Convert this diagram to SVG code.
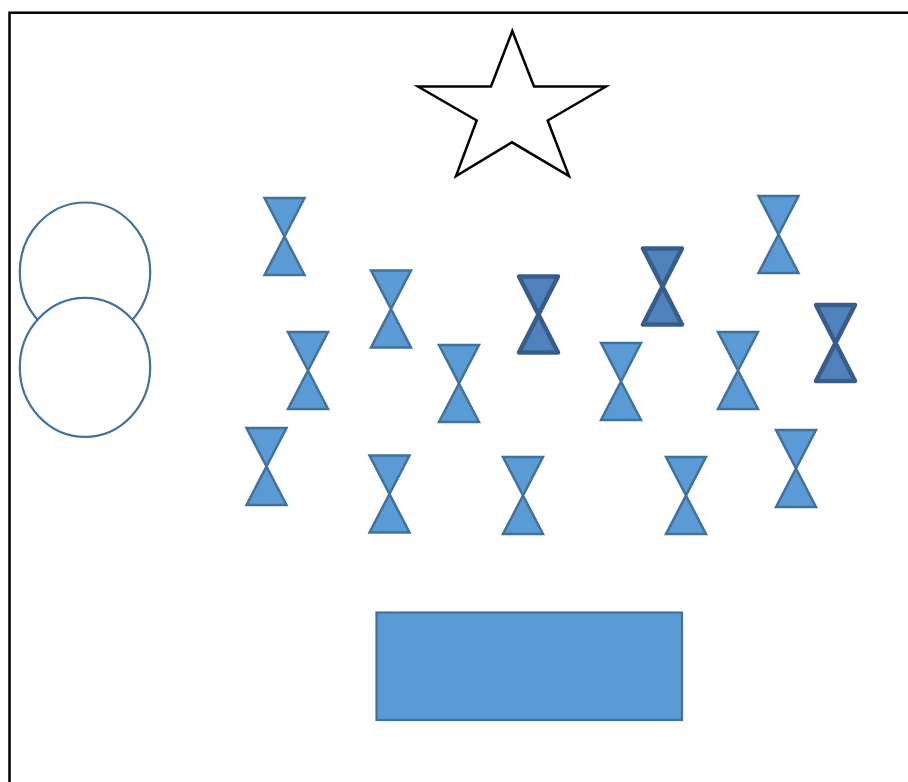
<svg xmlns="http://www.w3.org/2000/svg" xmlns:xlink="http://www.w3.org/1999/xlink" width="908" height="782" viewBox="0 0 908 782">
  <style>
    .frame { fill: none; stroke: #000; stroke-width: 2.5; }
    .star { fill: #fff; stroke: #000; stroke-width: 2.5; stroke-linejoin: miter; }
    .circ { fill: #fff; stroke: #41719c; stroke-width: 2.2; }
    .hg { fill: #5b9bd5; stroke: #41719c; stroke-width: 2.5; stroke-linejoin: miter; }
    .hgd { fill: #4f81bd; stroke: #385d8a; stroke-width: 4.5; stroke-linejoin: round; }
    .box { fill: #5b9bd5; stroke: #41719c; stroke-width: 2.2; }
  </style>
  <defs>
    <path id="hgN" d="M0,0 H40 L0,77 H40 Z"/>
    <path id="hgD" d="M0,0 H39 L0,76 H39 Z"/>
  </defs>
  <rect class="frame" x="9.5" y="12.7" width="1000" height="1000"/>
  <g id="star">
    <polygon class="star" points="512.3,31 534,86.5 606,86.5 547.7,120.5 569,176 512,142.3 456,176 476.7,120.5 418,86.5 491,86.5"/>
  </g>
  <g id="circle-top"><ellipse class="circ" cx="85" cy="272" rx="65.2" ry="69.5"/></g>
  <g id="circle-bottom"><ellipse class="circ" cx="85" cy="367.3" rx="65.2" ry="69.5"/></g>
  <g id="hg1"><use xlink:href="#hgN" class="hg" transform="translate(264.5,198)"/></g>
  <g id="hg2"><use xlink:href="#hgN" class="hg" transform="translate(371,270.5)"/></g>
  <g id="hg3"><use xlink:href="#hgN" class="hg" transform="translate(288,332)"/></g>
  <g id="hg4"><use xlink:href="#hgN" class="hg" transform="translate(439,345)"/></g>
  <g id="hg5"><use xlink:href="#hgD" class="hgd" transform="translate(519,276.5)"/></g>
  <g id="hg6"><use xlink:href="#hgD" class="hgd" transform="translate(643,248.5)"/></g>
  <g id="hg7"><use xlink:href="#hgN" class="hg" transform="translate(601,343)"/></g>
  <g id="hg8"><use xlink:href="#hgN" class="hg" transform="translate(758.5,196)"/></g>
  <g id="hg9"><use xlink:href="#hgN" class="hg" transform="translate(718,332)"/></g>
  <g id="hg10"><use xlink:href="#hgD" class="hgd" transform="translate(816,305)"/></g>
  <g id="hg11"><use xlink:href="#hgN" class="hg" transform="translate(246.5,428)"/></g>
  <g id="hg12"><use xlink:href="#hgN" class="hg" transform="translate(369.5,455.5)"/></g>
  <g id="hg13"><use xlink:href="#hgN" class="hg" transform="translate(503,457)"/></g>
  <g id="hg14"><use xlink:href="#hgN" class="hg" transform="translate(666,457)"/></g>
  <g id="hg15"><use xlink:href="#hgN" class="hg" transform="translate(776,430)"/></g>
  <g id="box"><rect class="box" x="376.5" y="612.5" width="305.5" height="107.5"/></g>
  <g id="connectors"/>
</svg>
